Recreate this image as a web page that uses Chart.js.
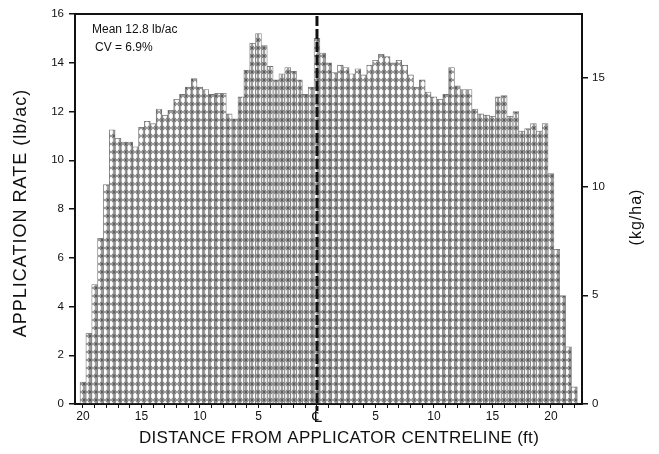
<!DOCTYPE html>
<html>
<head>
<meta charset="utf-8">
<script src="https://cdn.jsdelivr.net/npm/chart.js@4.4.1/dist/chart.umd.min.js"></script>
<style>
  html, body { margin: 0; padding: 0; background: #fff; }
  #wrap { width: 659px; height: 454px; position: relative; }
</style>
</head>
<body>
<div id="wrap"><canvas id="c" width="659" height="454"></canvas></div>
<script>
// ---- DATA ----
const positionsFt = [
  -20, -19.5, -19, -18.5, -18, -17.5, -17, -16.5, -16, -15.5,
  -15, -14.5, -14, -13.5, -13, -12.5, -12, -11.5, -11, -10.5,
  -10, -9.5, -9, -8.5, -8, -7.5, -7, -6.5, -6, -5.5,
  -5, -4.5, -4, -3.5, -3, -2.5, -2, -1.5, -1, -0.5,
  0,
  0.5, 1, 1.5, 2, 2.5, 3, 3.5, 4, 4.5, 5,
  5.5, 6, 6.5, 7, 7.5, 8, 8.5, 9, 9.5, 10,
  10.5, 11, 11.5, 12, 12.5, 13, 13.5, 14, 14.5, 15,
  15.5, 16, 16.5, 17, 17.5, 18, 18.5, 19, 19.5, 20,
  20.5, 21, 21.5, 22
];
const rateLbAc = [
  0.9, 2.9, 4.9, 6.8, 9.0, 11.25, 10.9, 10.75, 10.75, 10.55,
  11.35, 11.6, 11.5, 12.1, 11.85, 12.05, 12.5, 12.7, 13.0, 13.35,
  13.0, 12.9, 12.7, 12.75, 12.75, 11.9, 11.7, 12.6, 13.7, 14.8,
  15.2, 14.7, 13.85, 13.3, 13.55, 13.8, 13.65, 13.3, 12.7, 13.0,
  15.0,
  14.4, 14.0, 13.6, 13.9, 13.8, 13.55, 13.75, 13.5, 13.9, 14.1,
  14.35, 14.25, 14.0, 14.1, 13.9, 13.5, 13.0, 13.3, 12.8, 12.6,
  12.5, 12.7, 13.8, 13.05, 12.9, 12.9, 12.1, 11.9, 11.85, 11.8,
  12.6, 12.65, 11.8, 12.0, 11.2, 11.3, 11.5, 11.2, 11.5, 9.45,
  6.35, 4.45, 2.35, 0.7
];
const xTickValues = [-20, -15, -10, -5, 0, 5, 10, 15, 20];
const xTickText   = ['20', '15', '10', '5', '\u2104', '5', '10', '15', '20'];
const yLeftMax = 16;
const yLeftStep = 2;
const yRightStep = 5;
const LB_AC_TO_KG_HA = 1.12085;
const xMin = -20.68, xMax = 22.65;
const annotationLines = ['Mean 12.8 lb/ac', 'CV = 6.9%'];
const xTitle = 'DISTANCE FROM APPLICATOR CENTRELINE (ft)';
const yTitle = 'APPLICATION RATE (lb/ac)';
const y2Title = '(kg/ha)';

// ---- STYLE ----
const FONT = "'Liberation Sans', Arial, Helvetica, sans-serif";
const canvas = document.getElementById('c');
const ctx = canvas.getContext('2d');

function makePattern() {
  const t = document.createElement('canvas');
  t.width = 6; t.height = 8;
  const g = t.getContext('2d');
  g.fillStyle = '#9c9c9c';
  g.fillRect(0, 0, 6, 8);
  g.fillStyle = '#ffffff';
  g.beginPath();
  g.ellipse(3, 4, 1.9, 2.9, 0, 0, Math.PI * 2);
  g.fill();
  g.strokeStyle = '#3c3c3c';
  g.lineWidth = 0.8;
  g.beginPath();
  g.moveTo(0, 0); g.lineTo(1.3, 1.7);
  g.moveTo(6, 0); g.lineTo(4.7, 1.7);
  g.moveTo(0, 8); g.lineTo(1.3, 6.3);
  g.moveTo(6, 8); g.lineTo(4.7, 6.3);
  g.stroke();
  return ctx.createPattern(t, 'repeat');
}

function setSpacing(c, v) { if ('letterSpacing' in c) c.letterSpacing = v; }

const decor = {
  id: 'decor',
  afterDatasetsDraw(chart) {
    const c = chart.ctx;
    const a = chart.chartArea;
    const xs = chart.scales.x;
    c.save();
    // top frame line
    c.strokeStyle = '#111';
    c.lineWidth = 2;
    c.beginPath();
    c.moveTo(a.left - 1, a.top);
    c.lineTo(a.right + 1, a.top);
    c.stroke();
    // dashed centreline
    const cx = xs.getPixelForValue(0);
    c.lineWidth = 3;
    c.setLineDash([10, 3]);
    c.beginPath();
    c.moveTo(cx, a.top + 2);
    c.lineTo(cx, a.bottom + 7);
    c.stroke();
    c.setLineDash([]);
    // annotation
    c.fillStyle = '#111';
    c.font = '12px ' + FONT;
    c.textBaseline = 'middle';
    c.textAlign = 'left';
    c.fillText(annotationLines[0], a.left + 17, a.top + 16);
    c.fillText(annotationLines[1], a.left + 20, a.top + 34);
    // axis titles
    c.textAlign = 'center';
    c.save();
    c.font = '17px ' + FONT;
    setSpacing(c, '0.3px');
    c.fillText(xTitle, 339, 438);
    c.restore();
    c.save();
    c.translate(21, (a.top + a.bottom) / 2 + 4);
    c.rotate(-Math.PI / 2);
    c.font = '18px ' + FONT;
    setSpacing(c, '1px');
    c.fillText(yTitle, 0, 0);
    c.restore();
    c.save();
    c.translate(637, (a.top + a.bottom) / 2 + 8);
    c.rotate(-Math.PI / 2);
    c.font = '16px ' + FONT;
    setSpacing(c, '1px');
    c.fillText(y2Title, 0, 0);
    c.restore();
    c.restore();
  }
};

const points = positionsFt.map((x, i) => ({ x: x, y: rateLbAc[i] }));

new Chart(ctx, {
  type: 'bar',
  data: {
    datasets: [{
      data: points,
      backgroundColor: makePattern(),
      borderColor: '#777777',
      borderWidth: 0.8,
      barPercentage: 1.0,
      categoryPercentage: 1.0,
      grouped: false
    }]
  },
  options: {
    responsive: false,
    animation: false,
    devicePixelRatio: 1,
    layout: { padding: { top: 14, left: 0, right: 0, bottom: 0 } },
    plugins: { legend: { display: false }, tooltip: { enabled: false }, title: { display: false } },
    scales: {
      x: {
        type: 'linear',
        offset: false,
        min: xMin,
        max: xMax,
        afterFit(s) { s.height = 50; },
        border: { display: true, color: '#111', width: 2 },
        grid: { offset: false, drawOnChartArea: false, drawTicks: true, tickLength: 4, color: '#111', lineWidth: 1 },
        ticks: {
          stepSize: 1,
          includeBounds: false,
          autoSkip: false,
          maxRotation: 0,
          padding: 1,
          color: '#111',
          font(context) {
            return context.tick && context.tick.value === 0
              ? { family: "'DejaVu Sans', " + FONT, size: 15 }
              : { family: FONT, size: 12 };
          },
          callback(v) {
            const i = xTickValues.indexOf(v);
            return i >= 0 ? xTickText[i] : '';
          }
        }
      },
      y: {
        position: 'left',
        min: 0,
        max: yLeftMax,
        afterFit(s) { s.width = 75; },
        border: { display: true, color: '#111', width: 2 },
        grid: { drawOnChartArea: false, drawTicks: true, tickLength: 6, color: '#111', lineWidth: 1.5 },
        ticks: {
          stepSize: yLeftStep,
          includeBounds: false,
          padding: 5,
          color: '#111',
          font: { family: FONT, size: 11.5 }
        }
      },
      y2: {
        position: 'right',
        min: 0,
        max: yLeftMax * LB_AC_TO_KG_HA,
        afterFit(s) { s.width = 77; },
        border: { display: true, color: '#111', width: 2 },
        grid: { drawOnChartArea: false, drawTicks: true, tickLength: 6, color: '#111', lineWidth: 1.5 },
        ticks: {
          stepSize: yRightStep,
          includeBounds: false,
          padding: 4,
          color: '#111',
          font: { family: FONT, size: 11.5 }
        }
      }
    }
  },
  plugins: [decor]
});
</script>
</body>
</html>
